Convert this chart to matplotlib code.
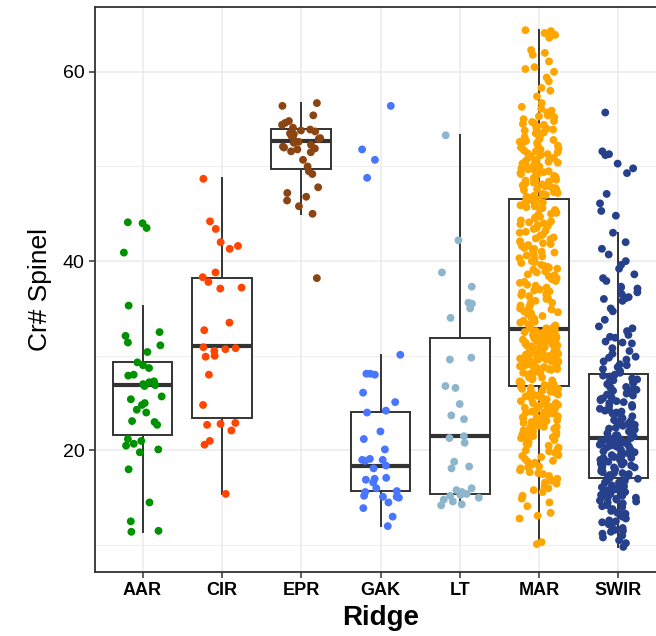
import numpy as np
import matplotlib
matplotlib.use("Agg")
import matplotlib.pyplot as plt

plt.rcParams['font.family'] = ['Liberation Sans', 'DejaVu Sans']

ridges = ["AAR", "CIR", "EPR", "GAK", "LT", "MAR", "SWIR"]
colors = ["#009100", "#FF4500", "#8B4513", "#4876FF", "#8DB6CD", "#FFA500", "#27408B"]

# box statistics
q1 = [21.6, 23.4, 49.7, 15.7, 15.4, 26.8, 17.1]
med = [26.9, 31.0, 52.7, 18.3, 21.5, 32.8, 21.3]
q3 = [29.3, 38.2, 54.0, 24.1, 31.9, 46.6, 28.1]
whislo = [11.4, 15.4, 45.0, 12.0, 14.2, 10.1, 9.8]
whishi = [35.3, 48.8, 56.7, 30.1, 53.3, 64.4, 43.0]

aar = [44.1, 44.0, 43.5, 40.9, 35.3, 32.5, 32.1, 31.4, 31.1, 30.4, 29.3, 29.0,
       28.7, 28.0, 27.9, 27.3, 27.2, 27.0, 26.9, 26.8, 25.7, 25.4, 25.0, 24.8,
       24.3, 24.0, 23.1, 23.0, 22.7, 21.2, 21.0, 20.7, 20.5, 20.1, 19.8, 18.0,
       14.5, 12.5, 11.5, 11.4]
cir = [48.7, 44.2, 43.4, 42.0, 41.6, 41.3, 38.8, 38.3, 37.8, 37.2, 37.1, 33.5,
       32.7, 30.9, 30.8, 30.7, 30.5, 30.0, 29.9, 28.0, 24.8, 22.9, 22.8, 22.7,
       22.1, 21.0, 20.6, 15.4]
epr = [56.7, 56.4, 55.4, 54.8, 54.6, 54.4, 54.1, 53.9, 53.8, 53.7, 53.5, 53.4,
       53.2, 53.0, 52.9, 52.7, 52.6, 52.5, 52.3, 52.1, 52.0, 51.8, 51.6, 51.9,
       51.5, 50.7, 50.0, 49.5, 49.2, 47.8, 47.2, 46.8, 46.4, 45.8, 45.0, 38.2]
gak = [56.4, 51.8, 50.7, 48.8, 30.1, 28.1, 28.1, 28.0, 26.1, 25.1, 24.2, 24.0,
       22.0, 21.2, 20.1, 19.1, 19.0, 18.9, 19.0, 18.4, 18.1, 17.1, 17.0, 16.9,
       16.6, 16.0, 15.7, 15.6, 15.2, 15.1, 15.0, 15.1, 14.5, 13.9, 13.0, 12.0]
lt = [53.3, 42.2, 38.8, 37.3, 35.6, 35.5, 35.0, 34.0, 29.8, 29.6, 26.8, 26.6,
      24.9, 23.7, 23.3, 21.5, 21.3, 20.8, 18.8, 18.3, 18.1, 16.0, 15.8, 15.6,
      15.4, 15.3, 15.2, 15.0, 14.8, 14.6, 14.3, 14.2]
mar = [64.4, 64.3, 64.2, 64.1, 63.9, 63.6, 62.3, 62.0, 61.8, 61.1,
       60.5, 60.3, 60.0, 59.4, 59.0, 58.3, 58.0, 57.4, 56.7, 56.3,
       56.1, 55.9, 55.7, 55.5, 55.3, 55.2, 55.0, 54.8, 54.6, 54.5,
       54.4, 54.2, 54.1, 53.9, 53.8, 53.6, 53.5, 53.3, 53.2, 53.1,
       52.9, 52.8, 52.7, 52.6, 52.4, 52.3, 52.2, 52.0, 51.9, 51.8,
       51.7, 51.6, 51.4, 51.3, 51.2, 51.1, 51.0, 50.9, 50.8, 50.7,
       50.6, 50.5, 50.4, 50.3, 50.2, 50.1, 50.0, 49.9, 49.8, 49.7,
       49.6, 49.5, 49.4, 49.3, 49.2, 49.1, 49.0, 48.9, 48.8, 48.7,
       48.6, 48.5, 48.4, 48.3, 48.2, 48.1, 48.0, 47.9, 47.8, 47.7,
       47.6, 47.5, 47.4, 47.3, 47.2, 47.1, 47.0, 46.9, 46.8, 46.7,
       55.4, 54.7, 54.0, 53.4, 52.5, 51.5, 50.6, 49.6, 48.5, 47.5,
       46.5, 46.4, 46.3, 46.2, 46.1, 46.0, 45.9, 45.8, 45.6, 45.5,
       45.4, 45.3, 45.1, 45.0, 44.9, 44.7, 44.6, 44.5, 44.3, 44.2,
       44.1, 43.9, 43.8, 43.7, 43.5, 43.4, 43.2, 43.1, 43.0, 42.8,
       42.7, 42.5, 42.4, 42.3, 42.1, 42.0, 41.9, 41.7, 41.6, 41.4,
       41.3, 41.2, 41.0, 40.9, 40.7, 40.6, 40.5, 40.3, 40.2, 40.0,
       39.9, 39.8, 39.6, 39.5, 39.3, 39.2, 39.1, 38.9, 38.8, 38.6,
       38.5, 38.4, 38.2, 38.1, 37.9, 37.8, 37.7, 37.5, 37.4, 37.2,
       37.1, 37.0, 36.8, 36.7, 36.5, 36.4, 36.3, 36.1, 36.0, 35.8,
       35.7, 35.6, 35.4, 35.3, 35.1, 35.0, 34.9, 34.7, 34.6, 34.4,
       34.3, 34.2, 34.0, 33.9, 33.7, 33.6, 33.5, 33.3, 33.2, 33.0,
       32.9, 32.9, 33.1, 34.5, 36.9, 39.4, 41.8, 44.0, 45.7, 46.6,
       32.8, 32.7, 32.7, 32.6, 32.6, 32.5, 32.5, 32.4, 32.4, 32.3,
       32.3, 32.2, 32.2, 32.1, 32.1, 32.0, 32.0, 31.9, 31.9, 31.8,
       31.8, 31.7, 31.7, 31.6, 31.6, 31.5, 31.5, 31.4, 31.4, 31.3,
       31.3, 31.2, 31.2, 31.1, 31.1, 31.0, 31.0, 30.9, 30.9, 30.8,
       30.8, 30.7, 30.7, 30.6, 30.6, 30.5, 30.5, 30.4, 30.4, 30.3,
       30.3, 30.2, 30.2, 30.1, 30.1, 30.0, 30.0, 29.9, 29.9, 29.8,
       29.8, 29.7, 29.7, 29.6, 29.6, 29.5, 29.5, 29.4, 29.4, 29.3,
       29.3, 29.2, 29.2, 29.1, 29.1, 29.0, 29.0, 28.9, 28.9, 28.8,
       28.8, 28.7, 28.6, 28.5, 28.4, 28.3, 28.2, 28.1, 28.0, 27.9,
       27.8, 27.7, 27.6, 27.5, 27.4, 27.3, 27.2, 27.1, 27.0, 26.9,
       26.8, 28.6, 29.6, 30.3, 31.0, 31.6, 32.1, 32.4, 27.7, 28.3,
       26.7, 26.6, 26.5, 26.4, 26.3, 26.2, 26.1, 26.0, 25.9, 25.8,
       25.7, 25.6, 25.5, 25.4, 25.3, 25.2, 25.1, 25.0, 24.9, 24.8,
       24.7, 24.6, 24.5, 24.4, 24.3, 24.2, 24.1, 24.0, 23.9, 23.8,
       23.7, 23.6, 23.5, 23.4, 23.3, 23.2, 23.1, 23.0, 22.9, 22.8,
       22.7, 22.6, 22.5, 22.4, 22.3, 22.2, 22.1, 22.0, 21.9, 21.8,
       21.7, 21.6, 21.5, 21.4, 21.3, 21.1, 20.9, 20.7, 20.5, 20.3,
       20.1, 19.9, 19.7, 19.5, 19.3, 19.1, 18.9, 18.7, 18.5, 18.3,
       18.1, 17.9, 17.7, 17.5, 17.3, 17.0, 16.8, 16.5, 16.2, 16.0,
       15.6, 15.2, 14.9, 14.5, 14.1, 13.4, 13.1, 12.8, 10.3, 10.1,
       26.5, 26.0, 25.5, 25.0, 24.5, 24.0, 23.5, 23.0, 22.5, 22.0,
       21.7, 21.2, 20.6, 20.0, 19.4, 18.8, 18.2, 17.6, 16.6, 15.8]
swir = [55.7, 51.6, 51.3, 51.2, 50.3, 49.8, 49.3, 47.1, 46.1, 45.3, 44.8, 43.0,
        42.0, 41.3, 40.7, 40.0, 39.6, 39.2, 38.6, 38.2, 37.9, 37.3, 37.2, 37.1,
        36.7, 36.5, 36.2, 36.1, 36.0, 35.8, 35.0, 34.7, 33.8, 33.1, 32.9, 32.6,
        32.2, 32.0, 31.9, 31.5, 31.4, 31.3, 30.5, 29.9, 29.8, 29.6, 29.4, 29.1,
        28.6, 28.4, 28.2, 30.8, 30.2, 29.0, 28.8,
        28.0, 27.9, 27.8, 27.6, 27.5, 27.4, 27.2, 27.1, 27.0, 26.8,
        26.7, 26.6, 26.4, 26.3, 26.2, 26.0, 25.9, 25.8, 25.6, 25.5,
        25.4, 25.2, 25.1, 25.0, 24.8, 24.7, 24.6, 24.4, 24.3, 24.2,
        24.0, 23.9, 23.8, 23.6, 23.5, 23.4, 23.2, 23.1, 23.0, 22.8,
        22.7, 22.6, 22.4, 22.3, 22.2, 22.0, 21.9, 21.8, 21.6, 21.5,
        21.4, 21.3, 21.2, 21.1, 21.0, 20.9, 20.8, 20.7, 20.6, 20.5,
        20.4, 20.3, 20.2, 20.1, 20.0, 19.9, 19.8, 19.7, 19.6, 19.5,
        19.4, 19.3, 19.2, 19.1, 19.0, 18.9, 18.8, 18.7, 18.6, 18.5,
        18.4, 18.3, 18.2, 18.1, 18.0, 17.9, 17.8, 17.7, 17.6, 17.5,
        17.4, 17.3, 17.2, 17.1, 21.6, 21.0, 20.4, 19.8, 19.2, 18.6,
        22.5, 23.3, 24.1, 25.3, 26.5, 27.3, 20.7, 19.0, 18.2, 17.6,
        17.0, 16.9, 16.8, 16.7, 16.6, 16.5, 16.4, 16.3, 16.2, 16.1,
        16.0, 15.9, 15.8, 15.7, 15.6, 15.5, 15.4, 15.3, 15.2, 15.1,
        15.0, 14.9, 14.8, 14.7, 14.6, 14.5, 14.4, 14.2, 14.0, 13.8,
        13.6, 13.4, 13.2, 13.0, 12.8, 12.6, 12.4, 12.2, 12.0, 11.8,
        11.6, 11.4, 11.2, 11.0, 10.8, 10.5, 10.2, 9.8, 16.6, 15.8,
        15.0, 14.1, 13.3, 12.5, 11.5]

groups = [aar, cir, epr, gak, lt, mar, swir]

fig = plt.figure(figsize=(6.56, 6.36), dpi=100)
ax = fig.add_axes([95 / 656, 64 / 636, 571 / 656, 565 / 636])

grid_c = "#EBEBEB"
ax.set_axisbelow(True)
ax.set_yticks([10, 30, 50], minor=True)
ax.grid(True, which="major", color=grid_c, lw=1.1)
ax.grid(True, which="minor", axis="y", color=grid_c, lw=0.6)

stats = []
for i in range(len(ridges)):
    stats.append(dict(q1=q1[i], med=med[i], q3=q3[i],
                      whislo=whislo[i], whishi=whishi[i], label=ridges[i]))
pos = np.arange(1, len(ridges) + 1)
ax.bxp(stats, positions=pos, widths=0.75, showfliers=False, showcaps=False,
       patch_artist=True,
       boxprops=dict(facecolor="white", edgecolor="#333333", lw=1.4),
       whiskerprops=dict(color="#333333", lw=1.4),
       medianprops=dict(color="#333333", lw=3.0))

# horizontal jitter like geom_jitter (position only)
rng = np.random.default_rng(11)
for i, (vals, col) in enumerate(zip(groups, colors)):
    vals = np.asarray(vals)
    off = rng.uniform(-0.25, 0.25, len(vals))
    ax.scatter(pos[i] + off, vals, s=32, color=col, edgecolors="none", zorder=3)

ax.set_xlim(0.4, 7.6)
ax.set_ylim(7.15, 66.85)
ax.set_xticks(pos)
ax.set_xticklabels(ridges, fontsize=13, fontweight="bold")
ax.set_yticks([20, 40, 60])
ax.tick_params(axis="y", labelsize=14, colors="#333333", labelcolor="black",
               length=4, width=1.1)
ax.tick_params(axis="x", colors="#333333", labelcolor="black", length=4, width=1.1)
ax.tick_params(which="minor", length=0)
for sp in ax.spines.values():
    sp.set_color("#333333")
    sp.set_linewidth(1.3)

ax.set_xlabel("Ridge", fontsize=20, fontweight="bold", labelpad=4)
ax.set_ylabel("Cr# Spinel", fontsize=19, labelpad=8)

fig.savefig("out.png", dpi=100)
